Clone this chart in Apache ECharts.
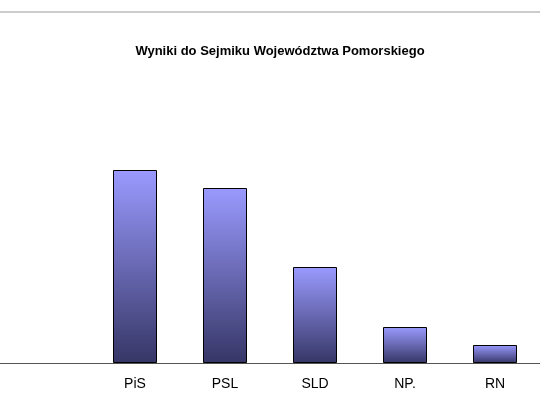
<!DOCTYPE html>
<html><head><meta charset="utf-8">
<script src="https://cdn.jsdelivr.net/npm/echarts@6/dist/echarts.min.js"></script>
<style>html,body{margin:0;padding:0;background:#fff}#c{width:540px;height:407px}</style>
</head><body><div id="c"></div>
<script>
// first category is cut off at the left edge of the original picture
var categories = ['', 'PiS', 'PSL', 'SLD', 'NP.', 'RN'];
var values = [null, 19.3, 17.5, 9.6, 3.6, 1.8];

var chart = echarts.init(document.getElementById('c'));
chart.setOption({
    animation: false,
    title: {
        text: 'Wyniki do Sejmiku Województwa Pomorskiego',
        left: 275, top: 40, textAlign: 'center',
        textStyle: { fontFamily: 'Liberation Sans, Arial', fontSize: 13, fontWeight: 'bold', color: '#000' }
    },
    graphic: [{
        type: 'line', shape: { x1: 0, y1: 12, x2: 540, y2: 12 },
        style: { stroke: '#999', lineWidth: 1 }
    }],
    grid: { left: -91, width: 649, top: 63, bottom: 44 },
    xAxis: {
        type: 'category', data: categories,
        axisLine: { lineStyle: { color: '#555' } },
        axisTick: { length: 6, lineStyle: { color: '#555' } },
        axisLabel: { color: '#000', fontSize: 14, margin: 14, fontFamily: 'Liberation Sans, Arial' }
    },
    yAxis: { type: 'value', min: 0, max: 30, show: false, splitLine: { show: false } },
    series: [{
        type: 'bar', data: values, barWidth: 44,
        itemStyle: {
            borderColor: '#000', borderWidth: 1,
            color: new echarts.graphic.LinearGradient(0, 0, 0, 1, [
                { offset: 0, color: '#9a9aff' },
                { offset: 1, color: '#363666' }
            ])
        }
    }]
});
</script></body></html>
